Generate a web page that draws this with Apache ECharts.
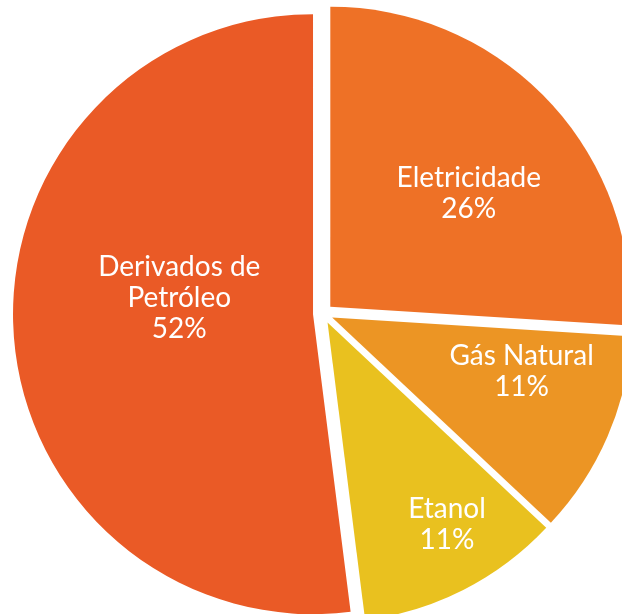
<!DOCTYPE html>
<html>
<head>
<meta charset="utf-8">
<script src="https://cdn.jsdelivr.net/npm/echarts@6/dist/echarts.min.js"></script>
<style>
  html, body { margin: 0; padding: 0; background: #fff; }
  #chart { width: 622px; height: 614px; }
</style>
</head>
<body>
<div id="chart"></div>
<script>
// fontes de energia (%)
var categories = ['Eletricidade', 'Gás Natural', 'Etanol', 'Derivados de\nPetróleo'];
var shares = [26, 11, 11, 52];
var colors = ['#EE7126', '#EC9524', '#E9C11F', '#EA5A26'];
// deslocamento dos rótulos (px)
var labelNudge = [[27, -8], [49, -7], [50, 66], [19, -26]];

var chart = echarts.init(document.getElementById('chart'));

var pieData = categories.map(function (name, i) {
    return {
        name: name,
        value: shares[i],
        selected: true,
        itemStyle: { color: colors[i] }
    };
});

var option = {
    animation: false,
    series: [
        {
            type: 'pie',
            center: [323, 313.5],
            radius: 300,
            startAngle: 90,
            clockwise: true,
            selectedMode: 'multiple',
            selectedOffset: 10,
            avoidLabelOverlap: false,
            itemStyle: { borderWidth: 0 },
            label: {
                show: true,
                position: 'inside',
                color: '#fff',
                fontFamily: 'Lato',
                fontSize: 28,
                lineHeight: 31,
                align: 'center',
                formatter: function (p) {
                    return p.name + '\n' + p.value + '%';
                }
            },
            labelLayout: function (params) {
                var n = labelNudge[params.dataIndex];
                return { dx: n[0], dy: n[1], hideOverlap: false };
            },
            labelLine: { show: false },
            emphasis: { disabled: true },
            data: pieData
        }
    ]
};

chart.setOption(option);
window.addEventListener('resize', function () {
    chart.resize();
});
</script>
</body>
</html>
